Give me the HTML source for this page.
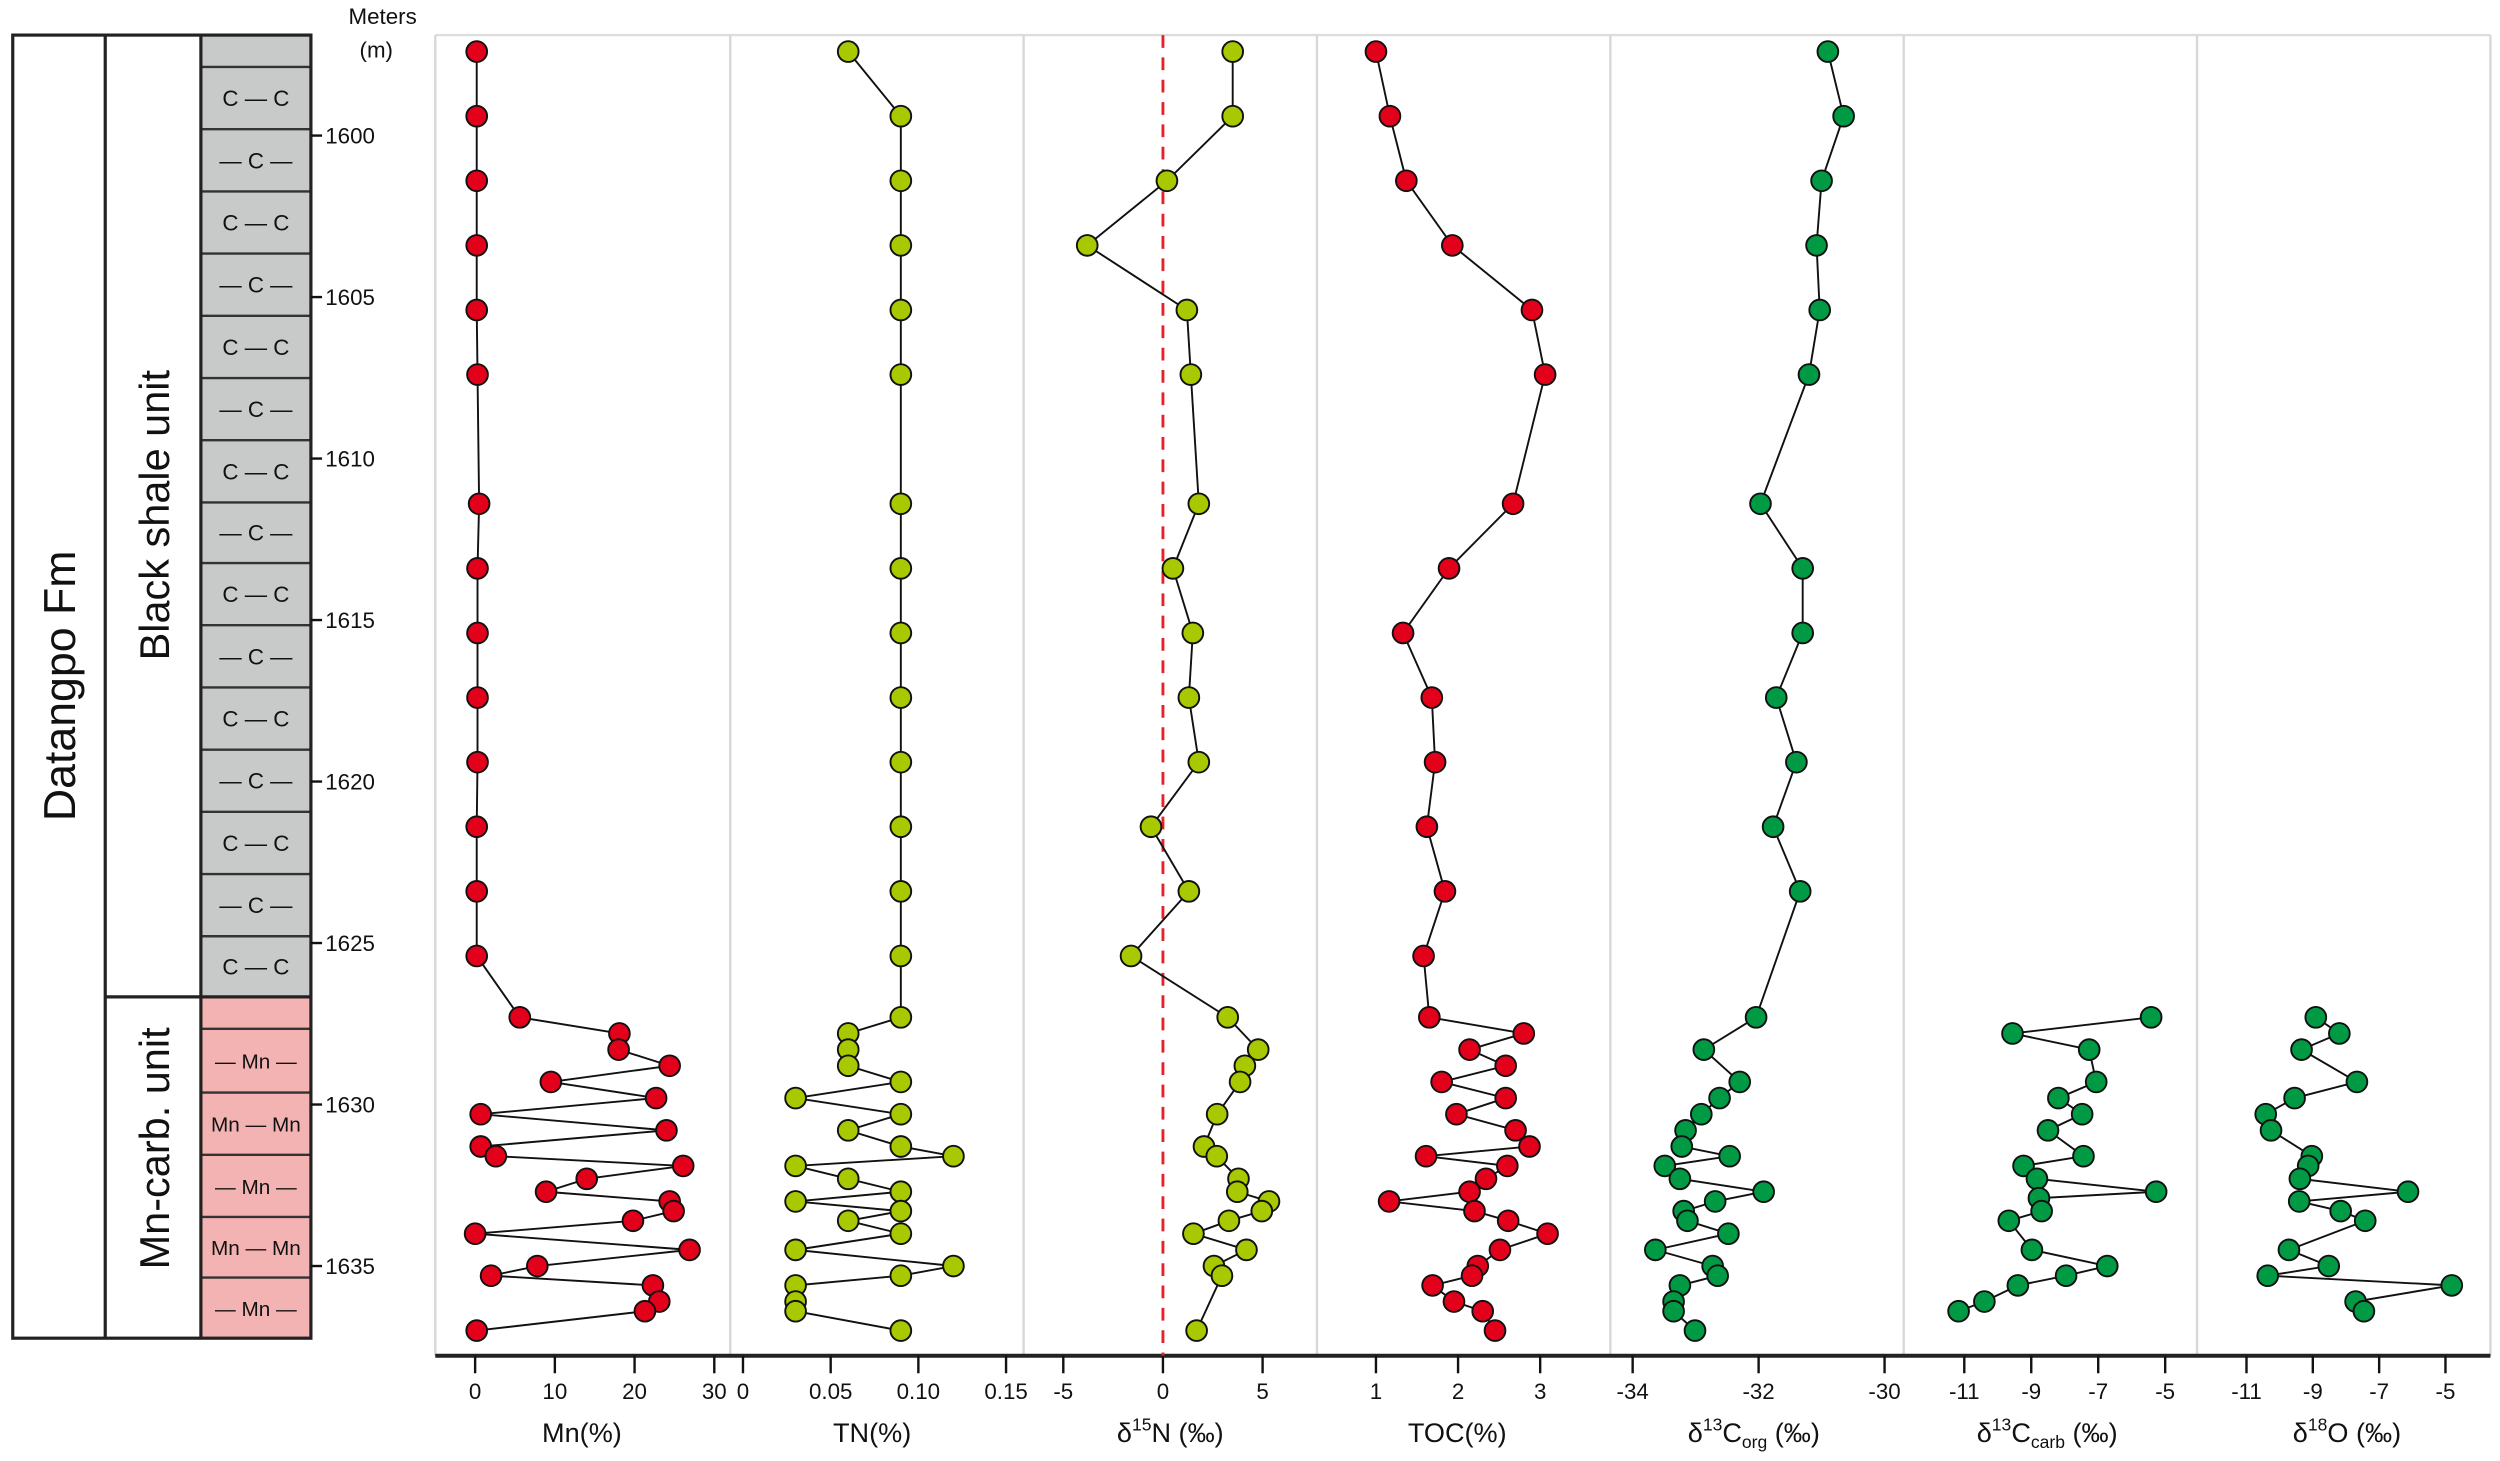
<!DOCTYPE html>
<html><head><meta charset="utf-8"><style>
html,body{margin:0;padding:0;background:#fff}
svg{display:block}
text{font-family:"Liberation Sans Narrow","Liberation Sans",sans-serif;fill:#111}
</style></head><body>
<svg id="chart" xmlns="http://www.w3.org/2000/svg" width="2500" height="1461" viewBox="0 0 1568 916" preserveAspectRatio="none">
<g id="strat"></g>
<g id="plots"></g>
</svg>
<script>
// ---- data ----
const upperDepths = [1597.4,1599.4,1601.4,1603.4,1605.4,1607.4,1611.4,1613.4,1615.4,1617.4,1619.4,1621.4,1623.4,1625.4];
const mnDepths = upperDepths.concat([1627.3,1627.8,1628.3,1628.8,1629.3,1629.8,1630.3,1630.8,1631.3,1631.6,1631.9,1632.3,1632.7,1633.0,1633.3,1633.6,1634.0,1634.5,1635.0,1635.3,1635.6,1636.1,1636.4,1637.0]);
const mnValues = [0.2,0.2,0.2,0.2,0.2,0.3,0.5,0.3,0.3,0.3,0.3,0.2,0.2,0.2, 5.6,18.1,18,24.4,9.5,22.7,0.7,24,0.7,2.6,26.1,14,8.9,24.4,24.9,19.8,0,26.9,7.8,2,22.3,23.1,21.3,0.2];
const tnDepths = mnDepths;
const tnValues = [0.06,0.09,0.09,0.09,0.09,0.09,0.09,0.09,0.09,0.09,0.09,0.09,0.09,0.09, 0.09,0.06,0.06,0.06,0.09,0.03,0.09,0.06,0.09,0.12,0.03,0.06,0.09,0.03,0.09,0.06,0.09,0.03,0.12,0.09,0.03,0.03,0.03,0.09];
const n15Depths = upperDepths.concat([1627.3,1628.3,1628.8,1629.3,1630.3,1631.3,1631.6,1632.3,1632.7,1633.0,1633.3,1633.6,1634.0,1634.5,1635.0,1635.3,1637.0]);
const n15Values = [3.5,3.5,0.2,-3.8,1.2,1.4,1.8,0.5,1.5,1.3,1.8,-0.6,1.3,-1.6, 3.25,4.78,4.11,3.87,2.72,2.06,2.7,3.79,3.73,5.32,4.96,3.31,1.53,4.19,2.56,2.96,1.69];
const tocDepths = mnDepths;
const tocValues = [1.0,1.17,1.37,1.93,2.9,3.06,2.67,1.89,1.33,1.68,1.72,1.62,1.84,1.58, 1.65,2.8,2.14,2.58,1.8,2.58,1.98,2.7,2.87,1.61,2.6,2.34,2.14,1.16,2.2,2.61,3.09,2.51,2.24,2.17,1.69,1.95,2.3,2.45];
const corgDepths = [1597.4,1599.4,1601.4,1603.4,1605.4,1607.4,1611.4,1613.4,1615.4,1617.4,1619.4,1621.4,1623.4, 1627.3,1628.3,1629.3,1629.8,1630.3,1630.8,1631.3,1631.6,1631.9,1632.3,1632.7,1633.0,1633.3,1633.6,1634.0,1634.5,1635.0,1635.3,1635.6,1636.1,1636.4,1637.0];
const corgValues = [-30.9,-30.65,-31.0,-31.08,-31.03,-31.2,-31.97,-31.3,-31.3,-31.72,-31.4,-31.77,-31.34, -32.04,-32.87,-32.3,-32.62,-32.91,-33.16,-33.22,-32.46,-33.49,-33.25,-31.92,-32.69,-33.19,-33.13,-32.48,-33.64,-32.73,-32.65,-33.25,-33.35,-33.35,-33.01];
const carbDepths = [1627.3,1627.8,1628.3,1629.3,1629.8,1630.3,1630.8,1631.6,1631.9,1632.3,1632.7,1632.9,1633.3,1633.6,1634.5,1635.0,1635.3,1635.6,1636.1,1636.4];
const carbValues = [-5.42,-9.56,-7.27,-7.06,-8.19,-7.48,-8.5,-7.44,-9.23,-8.83,-5.27,-8.77,-8.69,-9.67,-8.98,-6.73,-7.96,-9.4,-10.4,-11.17];
const oDepths = [1627.3,1627.8,1628.3,1629.3,1629.8,1630.3,1630.8,1631.6,1631.9,1632.3,1632.7,1633.0,1633.3,1633.6,1634.5,1635.0,1635.3,1635.6,1636.1,1636.4];
const oValues = [-8.91,-8.2,-9.34,-7.67,-9.55,-10.42,-10.26,-9.03,-9.14,-9.39,-6.13,-9.41,-8.16,-7.42,-9.72,-8.52,-10.36,-4.81,-7.71,-7.46];
const depthTicks = [1600,1605,1610,1615,1620,1625,1630,1635];
const mnTicks = [0,10,20,30];
const tnTicks = [0,0.05,0.10,0.15];
const tnTickLabels = ["0","0.05","0.10","0.15"];
const n15Ticks = [-5,0,5];
const tocTicks = [1,2,3];
const corgTicks = [-34,-32,-30];
const carbTicks = [-11,-9,-7,-5];
const oTicks = [-11,-9,-7,-5];

// ---- helpers ----
const NS = "http://www.w3.org/2000/svg";
function mk(tag, attrs, parent){const e=document.createElementNS(NS,tag);for(const k in attrs)e.setAttribute(k,attrs[k]);parent.appendChild(e);return e;}
const yOf = d => 85 + (d-1600)*20.25;
const strat = document.getElementById('strat');
const plots = document.getElementById('plots');

// ---- stratigraphy ----
let e;
e=mk('rect',{x:126,y:22,width:69,height:603,fill:'#c8c9c9'},strat);


e=mk('rect',{x:126,y:625,width:69,height:214,fill:'#f3b3b3'},strat);


const grayLines=[42,81,120,159,198,237,276,315,353,392,431,470,509,548,587];
grayLines.forEach(y=>{mk('line',{x1:126,x2:195,y1:y,y2:y,stroke:'#333','stroke-width':1.5},strat);});
const pinkLines=[645,685,724,763,801];
pinkLines.forEach(y=>{mk('line',{x1:126,x2:195,y1:y,y2:y,stroke:'#333','stroke-width':1.5},strat);});
for(let i=0;i<grayLines.length;i++){
  const y0=grayLines[i], y1=(grayLines[i+1]||625);
  const t=mk('text',{x:160.5,y:(y0+y1)/2+5,'text-anchor':'middle','font-size':14},strat);
  t.textContent = i%2===0 ? 'C — C' : '— C —';
  
  
}
for(let i=0;i<pinkLines.length;i++){
  const y0=pinkLines[i], y1=(pinkLines[i+1]||839);
  const t=mk('text',{x:160.5,y:(y0+y1)/2+5,'text-anchor':'middle','font-size':13},strat);
  t.textContent = i%2===0 ? '— Mn —' : 'Mn — Mn';
  
  
}
mk('rect',{x:8,y:22,width:187,height:817,fill:'none',stroke:'#222','stroke-width':2},strat);
mk('line',{x1:66,x2:66,y1:22,y2:839,stroke:'#222','stroke-width':2},strat);
mk('line',{x1:126,x2:126,y1:22,y2:839,stroke:'#222','stroke-width':2},strat);
mk('line',{x1:66,x2:195,y1:625,y2:625,stroke:'#222','stroke-width':2},strat);
e=mk('text',{x:0,y:0,transform:'translate(47,430) rotate(-90)','text-anchor':'middle','font-size':28,style:'font-family:"Liberation Sans",sans-serif'},strat);
e.textContent='Datangpo Fm';


e=mk('text',{x:0,y:0,transform:'translate(106,323) rotate(-90)','text-anchor':'middle','font-size':26,style:'font-family:"Liberation Sans",sans-serif'},strat);
e.textContent='Black shale unit';


e=mk('text',{x:0,y:0,transform:'translate(106,720) rotate(-90)','text-anchor':'middle','font-size':26,style:'font-family:"Liberation Sans",sans-serif'},strat);
e.textContent='Mn-carb. unit';


e=mk('text',{x:240,y:15,'text-anchor':'middle','font-size':14},strat);
e.textContent='Meters';


e=mk('text',{x:236,y:36,'text-anchor':'middle','font-size':14},strat);
e.textContent='(m)';


depthTicks.forEach(d=>{
  const y=yOf(d);
  mk('line',{x1:195,x2:202,y1:y,y2:y,stroke:'#111','stroke-width':1.5},strat);
  const t=mk('text',{x:204,y:y+5,'font-size':14},strat);
  t.textContent=String(d);
  
  
});

// ---- panels ----
const panelBounds=[273,458,642,826,1010,1194,1378,1562];
mk('line',{x1:273,x2:1562,y1:22,y2:22,stroke:'#ddd','stroke-width':1.5},plots);
panelBounds.forEach(x=>{mk('line',{x1:x,x2:x,y1:22,y2:850,stroke:'#d8d8d8','stroke-width':1.5},plots);});
mk('line',{x1:273,x2:1562,y1:850,y2:850,stroke:'#222','stroke-width':2.5},plots);
e=mk('line',{x1:729.4,x2:729.4,y1:22,y2:850,stroke:'#e8202a','stroke-width':1.8,'stroke-dasharray':'8,6'},plots);



function panel(name, depths, values, xf, ticks, tickLabels, fill, titleParts){
  const g=mk('g',{},plots);
  
  
  const pts=depths.map((d,i)=>xf(values[i]).toFixed(2)+','+yOf(d).toFixed(2)).join(' ');
  const pl=mk('polyline',{points:pts,fill:'none',stroke:'#111','stroke-width':1.2},g);
  
  
  depths.forEach((d,i)=>{
    const c=mk('circle',{cx:xf(values[i]),cy:yOf(d),r:6.5,fill:fill,stroke:'#111','stroke-width':1.2},g);
    
    
  });
  ticks.forEach((v,i)=>{
    const x=xf(v);
    mk('line',{x1:x,x2:x,y1:850,y2:861,stroke:'#111','stroke-width':1.5},g);
    const t=mk('text',{x:x,y:877,'text-anchor':'middle','font-size':14},g);
    t.textContent=tickLabels?tickLabels[i]:String(v);
    
    
  });
  const tt=mk('text',{x:titleParts.x,y:904,'text-anchor':'middle','font-size':17},g);
  
  
  titleParts.parts.forEach(p=>{
    const s=mk('tspan',{},tt);
    if(p[1]==='sup'){s.setAttribute('dy',-7);s.setAttribute('font-size',11);}
    if(p[1]==='sub'){s.setAttribute('dy',4);s.setAttribute('font-size',11);}
    if(p[1]==='back'){s.setAttribute('dy',7);}
    if(p[1]==='up'){s.setAttribute('dy',-4);}
    s.textContent=p[0];
  });
}
const red='#e3001b', lime='#a8c800', green='#009a44';
panel('mn',mnDepths,mnValues,v=>298+v*5,mnTicks,null,red,{x:365,parts:[['Mn(%)','']]});
panel('tn',tnDepths,tnValues,v=>466+v*1100,tnTicks,tnTickLabels,lime,{x:547,parts:[['TN(%)','']]});
panel('d15n',n15Depths,n15Values,v=>729.4+v*12.5,n15Ticks,null,lime,{x:734,parts:[['δ',''],['15','sup'],['N (‰)','back']]});
panel('toc',tocDepths,tocValues,v=>863+(v-1)*51.5,tocTicks,null,red,{x:914,parts:[['TOC(%)','']]});
panel('d13corg',corgDepths,corgValues,v=>1024+(v+34)*39.5,corgTicks,null,green,{x:1100,parts:[['δ',''],['13','sup'],['C','back'],['org','sub'],[' (‰)','up']]});
panel('d13ccarb',carbDepths,carbValues,v=>1232+(v+11)*21,carbTicks,null,green,{x:1284,parts:[['δ',''],['13','sup'],['C','back'],['carb','sub'],[' (‰)','up']]});
panel('d18o',oDepths,oValues,v=>1409+(v+11)*20.8,oTicks,null,green,{x:1472,parts:[['δ',''],['18','sup'],['O (‰)','back']]});
</script>
</body></html>
